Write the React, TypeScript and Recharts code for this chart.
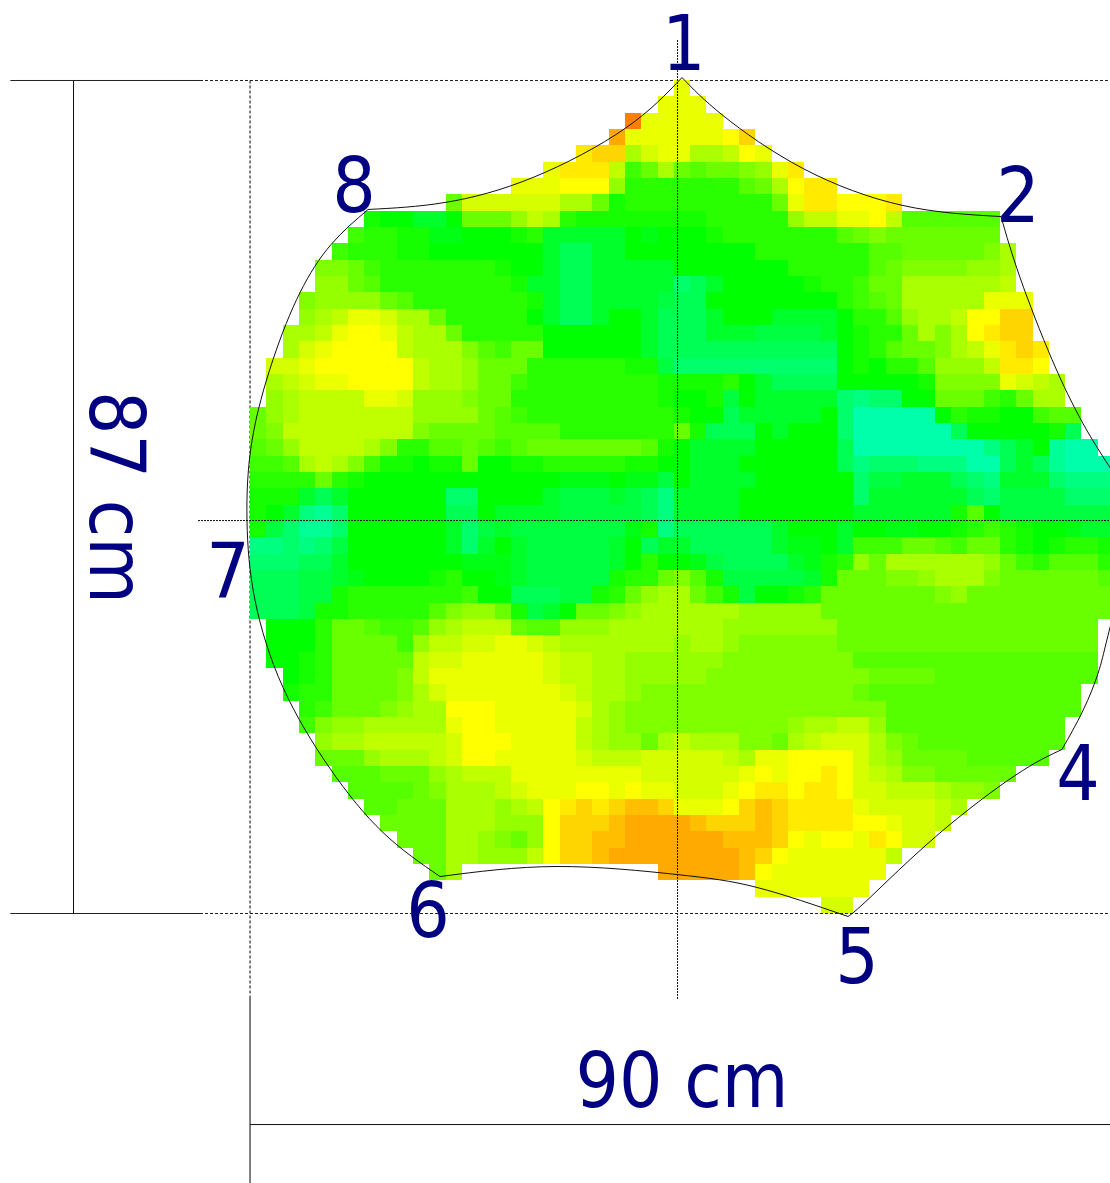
import { ComposedChart, Line, ReferenceLine, Scatter, XAxis, YAxis } from "recharts";

// heat levels, coolest (teal) to hottest (orange), one step per letter. "." = no reading
const levels = "aAbBcCdDeEfFgGhHiIjJkKlLmMn";

// first column of every row, top row first
const rowStarts = [
  26, 25, 23, 22, 20, 18, 16, 12, 7, 6, 5, 4, 4, 3, 3, 2, 2, 1, 1, 1, 0, 0, 0, 0, 0, 0, 0, 0, 0, 0, 0, 0, 0, 1, 1, 1,
  2, 2, 3, 3, 4, 4, 5, 6, 7, 8, 9, 10, 11, 31, 35,
];

const rows = [
  "J",
  "JJJ",
  "nJJJJJ",
  "mJJJJJJkl",
  "Kll i j JJ ii I k J",
  "JKKKI FGi Gg GG hH JK",
  "JJJkkk H fffffff gG ik KK",
  "G jjjjjj ii G E fffffffff G J K Kkkk K",
  "Eeedde GGGHIif EEEEEEEE fffff HIIJJkI gggggg",
  "FffEEDD eeeEf ddddd eDee eE fffffff gGhG GGGGGG",
  "Ffff EE eeeeeee dccdd eeeeeeee fffffff gg GGGGG hi",
  "hhGF fffffff Eee dcc ddddd eeeeeee fffff gG hhhh HHi",
  "HHGg ffffffff E dd cc ddddd Bc d eeeee Eff FGG iiiii iI",
  "hHHHHGg fffffff Ed cc dddd Ccc eeeeeeee fFg G iiiii JJJ",
  "HiIJJjiiG fffff edccdeedccc d eee dddd effg HiiIkkll",
  "iiIJkkJIiiG fffff eeeeee dccc ddd CCCC deE ff Gihi kKll",
  "ijJkkkkIiiihgFGG eeeeee dc cccccccccc eEf gGG hiIJKlK",
  "jjJkkkkkk IiiH GGG ffffff EE CB BBBBB BBB B eEe ff gH HH I KKk",
  "iIjJJkkkkIiiHGGF ffffffff EEEE f ed cccc eeeee E hhhh JjIi",
  "HiIIIIJJjHHHhGG f ffffffff EeeE Ce ddddd BbBB ee GGG FfG ii",
  "GHi IIIIIII HHHH Gg F ffffffff f Eee c ddddd eB aaaaa ef EEee Fgg",
  "Gh IIIIIIII h GGGG gggg fffffff G E ccc e d eee B aaaaaa c eeeee E c",
  "gGH IIII ihff ggGg Fg GGGGGGG gEe dddd eeeee c aaaaaaaa bcdeA aa",
  "FFgiIihF EEeEE G eeEE fffff EEee ddd eeeeee cbBBB bbb aa cdcA aaa",
  "ffffGfE eeeeeeeeeeee DDD eDD C e dddd eeeeee BCC ddd cBb ddd B bbb",
  "EEEdcd eeeeee BB eeee d CCC dCcb d ddd eeeeeee B dddddd cB CCCCBBB",
  "EedbAB eeeeee cc e dddd CCCCC cb d ddd eeeeeee dddddd Ege CCCCCCC",
  "ECBAAB eeeeee dBCd CCCCCC C DEb c ccccc d eee d ee DD eeE fFf Eee Ddd",
  "bbBbBC eeeeee dBded CCCCC decdd ccccc d DDe d FFF GGg FGGfE eEffE",
  "BBBccd eeeeeee DDDd CCCCC defee D Ccccc d DEf HG iiiii iHGF f ggg f",
  "cccCC dD eeee Ef ee D dCCCCC EffGh gE CCCCCd E GGGhh Hiii hGG GGGGg",
  "cccCCE fffffff F ee ccc CC EfGHii GFEC eeEf GGGGGGG hHG GGGGGGGG",
  "cccCEE fffff ghHHG ECde GGhH iiiiii HHHHH G GGGGGGGG GGGGGGGGG",
  "eee fGGg FFg Hi III GggH HHiiii iiiHHH HHHH GGGGGGGG GGGGGGGG",
  "eee f GGG GF H IIjjJ J jI iiiiiiiH ii Hhhhhhh G GGGGGGGGGGGGGGG",
  "ee Ef GGGGG IjjJJ JJ JjII iiHHHH H Hhhhhhhhh ggggggggggggggg",
  "e Ef GGGG h I JJJJJJ JjII iiH HHH H hhhhhhhhhh GGGG gggggggggg",
  "Eff GGGG hi jJ JJJJJ JjI ii Hhhh hhhhhhhhhh G ggggggggggggg",
  "fF GGGhH ii kkkJJJJ Jj i Hhhhh hhhhhhhhhhh h gggggggggggg",
  "Fh HHiiiii JkkJJJJ JI i Hhhhhhhhhhh Hii II H ggggggggggg",
  "Hii IIIII j kkkJJJ JI iHH Gi I iii hhG i Ijjj ih Gggggggggg",
  "GGG Hiii Ij kk J JJJJ j I II jjjjj Ii J J kkkk jiH GGGGggggg",
  "ggg GGG Hi III JJJJJJJJ jjjjjj JkJkkKk jIi hh GGGGG",
  "gggg Gh iii Ij JJJ kkJkJJ jjj Jk KKkKKk jj III iHHh",
  "ggGGG iiiHi Ik KlKlLLlJ JJk lLl KKKK J jjjj Ii",
  "GGGG iii HHH k lll Lmmmm L lll Ll KKKK kk J jjI",
  "GGG ii HhGH k ll LL mmmmmm LLL l kJkkJ Kk jj",
  "GG ii HHH I k ll L mmmmmmmm L l k JJJJ JJ I",
  "Gi ............ mmmmmL k JJJJJ JJ",
  "JJJJJJJ",
  "jj",
];

// outline of the sheet in cm, walked from corner 1 clockwise (corner 3 lies outside the crop)
const outlineXs = [
  45.42, 49.73, 58.14, 68.66, 78.96, 80.96, 84.32, 87.58, 90.42, 92.52, 92.0, 90.21, 89.16, 87.58, 85.37, 80.43, 72.23,
  65.19, 62.87, 53.31, 44.89, 32.28, 19.98, 13.98, 8.41, 3.47, 0.53, -0.32, 0.21, 2.42, 5.26, 8.52, 12.41, 20.5, 29.75,
  39.43, 45.42,
];
const outlineYs = [
  87.31, 83.34, 77.81, 73.94, 72.79, 66.42, 57.86, 51.18, 46.58, 43.45, 36.87, 29.03, 25.07, 21.2, 17.13, 14.41, 8.15,
  1.67, -0.31, 2.72, 4.07, 4.91, 3.86, 8.46, 15.14, 23.6, 32.69, 41.04, 49.4, 57.86, 64.86, 69.87, 73.53, 74.26, 76.87,
  81.99, 87.31,
];
// outline indexes where a new arc starts (the sheet's corners)
const cornerIndexes = [0, 4, 9, 14, 18, 22, 32, 36];

const labelTexts = ["1", "2", "4", "5", "6", "7", "8", "90 cm", "87 cm"];
const labelXs = [45.6, 80.75, 87.06, 63.82, 18.71, -2.31, 10.93, 45.42, -16.82];
const labelYs = [88.13, 72.26, 11.89, -7.22, -2.42, 32.99, 73.3, -20.2, 43.45];
const labelAngles = [0, 0, 0, 0, 0, 0, 0, 0, 90];

const WIDTH = 1110;
const HEIGHT = 1183;
const CELL_CM_X = 1.714;
const CELL_CM_Y = 1.7055;
const CELL_PX_X = 16.3;
const CELL_PX_Y = 16.33;
const TOP_CM = 87.05;
const RIGHT_CM = 90.42;
const BOTTOM_CM = -28.146;
const LABEL_COLOR = "#000080";

const cells = rows.flatMap((row, r) =>
  row
    .replace(/ /g, "")
    .split("")
    .flatMap((ch, i) =>
      ch === "."
        ? []
        : [
            {
              x: (rowStarts[r] + i + 0.5) * CELL_CM_X,
              y: TOP_CM - (r + 0.5) * CELL_CM_Y,
              level: levels.indexOf(ch),
            },
          ],
    ),
);
const outline = outlineXs.map((x, i) => ({ x, y: outlineYs[i] }));
const arcs = cornerIndexes.slice(1).map((end, i) => outline.slice(cornerIndexes[i], end + 1));
const labels = labelTexts.map((text, i) => ({ x: labelXs[i], y: labelYs[i], text, angle: labelAngles[i] }));

const centerRow = [
  { x: -5.47, y: 41.04 },
  { x: RIGHT_CM, y: 41.04 },
];
const centerColumn = [
  { x: 44.95, y: 91.23 },
  { x: 44.95, y: -8.93 },
];

function levelColor(level: number) {
  return `hsl(${160 - level * 5}, 100%, 50%)`;
}

function HeatCell(props: any) {
  const { cx, cy, payload } = props;
  const x0 = Math.round(cx - CELL_PX_X / 2);
  const x1 = Math.round(cx + CELL_PX_X / 2);
  const y0 = Math.round(cy - CELL_PX_Y / 2);
  const y1 = Math.round(cy + CELL_PX_Y / 2);
  return <rect x={x0} y={y0} width={x1 - x0} height={y1 - y0} fill={levelColor(payload.level)} shapeRendering="crispEdges" />;
}

function LabelMark(props: any) {
  const { cx, cy, payload } = props;
  return (
    <text
      x={cx}
      y={cy}
      fill={LABEL_COLOR}
      fontSize={76}
      fontFamily="'DejaVu Sans Condensed', 'DejaVu Sans'"
      textAnchor="middle"
      transform={payload.angle ? `rotate(${payload.angle} ${cx} ${cy})` : undefined}
    >
      {payload.text}
    </text>
  );
}

export default function App() {
  return (
    <div style={{ position: "absolute", left: 0, top: 0, width: WIDTH, height: HEIGHT, overflow: "hidden", background: "#fff" }}>
      <ComposedChart width={WIDTH} height={HEIGHT} margin={{ top: 0, right: 0, bottom: 0, left: 0 }}>
        <XAxis type="number" dataKey="x" domain={[-26.29, RIGHT_CM]} allowDataOverflow hide />
        <YAxis type="number" dataKey="y" domain={[BOTTOM_CM, 95.407]} allowDataOverflow hide />

        <Scatter data={cells} shape={HeatCell} isAnimationActive={false} />

        {/* dimension lines */}
        <ReferenceLine segment={[{ x: -25.2, y: 87 }, { x: -5.26, y: 87 }]} stroke="#222" />
        <ReferenceLine segment={[{ x: -25.2, y: 0 }, { x: -5.26, y: 0 }]} stroke="#222" />
        <ReferenceLine segment={[{ x: -18.56, y: 87 }, { x: -18.56, y: 0 }]} stroke="#111" />
        <ReferenceLine segment={[{ x: 0, y: -8.72 }, { x: 0, y: BOTTOM_CM }]} stroke="#000" />
        <ReferenceLine segment={[{ x: 0, y: -22.04 }, { x: RIGHT_CM, y: -22.04 }]} stroke="#111" />

        {/* dashed guides */}
        <ReferenceLine segment={[{ x: -5.26, y: 87 }, { x: RIGHT_CM, y: 87 }]} stroke="#222" strokeDasharray="3 2" />
        <ReferenceLine segment={[{ x: -5.26, y: 0 }, { x: RIGHT_CM, y: 0 }]} stroke="#222" strokeDasharray="3 2" />
        <ReferenceLine segment={[{ x: 0, y: 87 }, { x: 0, y: -8.72 }]} stroke="#000" strokeDasharray="3 2" />

        <Line data={centerRow} dataKey="y" stroke="#111" strokeDasharray="2 1" dot={false} isAnimationActive={false} zIndex={700} />
        <Line data={centerColumn} dataKey="y" stroke="#111" strokeDasharray="2 1" dot={false} isAnimationActive={false} zIndex={700} />
        {arcs.map((arc, i) => (
          <Line key={i} data={arc} dataKey="y" type="natural" stroke="#111" strokeWidth={1} dot={false} isAnimationActive={false} zIndex={700} />
        ))}
        <Scatter data={labels} shape={LabelMark} isAnimationActive={false} zIndex={800} />
      </ComposedChart>
    </div>
  );
}
